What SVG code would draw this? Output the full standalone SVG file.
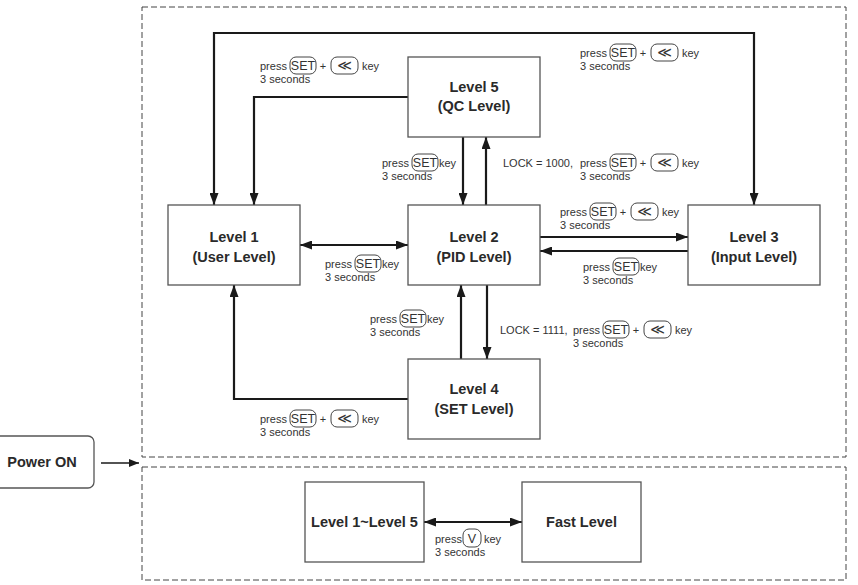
<svg xmlns="http://www.w3.org/2000/svg" width="858" height="585" viewBox="0 0 858 585">
<defs>
<style>
.frame{fill:none;stroke:#444;stroke-width:1;stroke-dasharray:6 3}
.box{fill:#fff;stroke:#555;stroke-width:1.3}
.nt{font-family:"Liberation Sans",Arial,sans-serif;font-weight:bold;font-size:14.5px;fill:#2a2a2a;text-anchor:middle}
.conn{fill:none;stroke:#1a1a1a;stroke-width:2.2}
.thin{fill:none;stroke:#1a1a1a;stroke-width:1.3}
.lt{font-family:"Liberation Sans",Arial,sans-serif;font-size:11px;fill:#333}
.kt{font-family:"Liberation Sans",Arial,sans-serif;font-size:12.5px;fill:#333;text-anchor:middle}
.ks{font-family:"DejaVu Sans",sans-serif;font-size:14px;fill:#333;text-anchor:middle}
.key{fill:#fff;stroke:#444;stroke-width:1}
</style>
<marker id="ah" viewBox="0 0 12 9" refX="12" refY="4.5" markerWidth="12" markerHeight="9" markerUnits="userSpaceOnUse" orient="auto-start-reverse">
<path d="M0,0 L12,4.5 L0,9 Z" fill="#1a1a1a"/>
</marker>
<marker id="ahs" viewBox="0 0 10 8" refX="10" refY="4" markerWidth="10" markerHeight="8" markerUnits="userSpaceOnUse" orient="auto">
<path d="M0,0 L10,4 L0,8 Z" fill="#1a1a1a"/>
</marker>
</defs>
<rect width="858" height="585" fill="#fff"/>
<g id="frames">
<rect class="frame" x="142" y="7" width="704" height="450"/>
<rect class="frame" x="142" y="467" width="704" height="113"/>
</g>
<g id="connectors">
<path class="conn" d="M214,205 V33 H754 V205" marker-start="url(#ah)" marker-end="url(#ah)"/>
<path class="conn" d="M408,97 H254 V205" marker-end="url(#ah)"/>
<path class="conn" d="M463,137 V205" marker-end="url(#ah)"/>
<path class="conn" d="M486,205 V137" marker-end="url(#ah)"/>
<path class="conn" d="M300,245 H408" marker-start="url(#ah)" marker-end="url(#ah)"/>
<path class="conn" d="M540,237 H688" marker-end="url(#ah)"/>
<path class="conn" d="M688,251 H540" marker-end="url(#ah)"/>
<path class="conn" d="M461,359 V285" marker-end="url(#ah)"/>
<path class="conn" d="M487,285 V359" marker-end="url(#ah)"/>
<path class="conn" d="M408,399 H234 V285" marker-end="url(#ah)"/>
<path class="conn" d="M424,522 H522" marker-start="url(#ah)" marker-end="url(#ah)"/>
<path class="thin" d="M101,463 H139" marker-end="url(#ahs)"/>
</g>
<g id="power-on">
<rect class="box" x="-6" y="436" width="100" height="52" rx="6"/>
<text class="nt" x="42" y="467">Power ON</text>
</g>
<g id="level5">
<rect class="box" x="408" y="57" width="132" height="80"/>
<text class="nt" x="474" y="92">Level 5</text>
<text class="nt" x="474" y="111">(QC Level)</text>
</g>
<g id="level1">
<rect class="box" x="168" y="205" width="132" height="80"/>
<text class="nt" x="234" y="242">Level 1</text>
<text class="nt" x="234" y="262">(User Level)</text>
</g>
<g id="level2">
<rect class="box" x="408" y="205" width="132" height="80"/>
<text class="nt" x="474" y="242">Level 2</text>
<text class="nt" x="474" y="262">(PID Level)</text>
</g>
<g id="level3">
<rect class="box" x="688" y="205" width="132" height="80"/>
<text class="nt" x="754" y="242">Level 3</text>
<text class="nt" x="754" y="262">(Input Level)</text>
</g>
<g id="level4">
<rect class="box" x="408" y="359" width="132" height="80"/>
<text class="nt" x="474" y="394">Level 4</text>
<text class="nt" x="474" y="414">(SET Level)</text>
</g>
<g id="level1-5">
<rect class="box" x="305" y="482" width="119" height="80"/>
<text class="nt" x="364.5" y="527">Level 1~Level 5</text>
</g>
<g id="fast-level">
<rect class="box" x="522" y="482" width="119" height="80"/>
<text class="nt" x="581.5" y="527">Fast Level</text>
</g>
<g id="labels">
<g transform="translate(260,70)">
<text class="lt" x="0" y="0">press</text>
<rect class="key" x="30" y="-13" width="26" height="17" rx="6"/>
<text class="kt" x="43" y="0">SET</text>
<text class="lt" x="63" y="0" text-anchor="middle">+</text>
<rect class="key" x="71" y="-13" width="27" height="17" rx="6"/>
<text class="ks" x="84.5" y="0">≪</text>
<text class="lt" x="102" y="0">key</text>
<text class="lt" x="0" y="13">3 seconds</text>
</g>
<g transform="translate(580,57)">
<text class="lt" x="0" y="0">press</text>
<rect class="key" x="30" y="-13" width="26" height="17" rx="6"/>
<text class="kt" x="43" y="0">SET</text>
<text class="lt" x="63" y="0" text-anchor="middle">+</text>
<rect class="key" x="71" y="-13" width="27" height="17" rx="6"/>
<text class="ks" x="84.5" y="0">≪</text>
<text class="lt" x="102" y="0">key</text>
<text class="lt" x="0" y="13">3 seconds</text>
</g>
<g transform="translate(382,167)">
<text class="lt" x="0" y="0">press</text>
<rect class="key" x="30" y="-13" width="26" height="17" rx="6"/>
<text class="kt" x="43" y="0">SET</text>
<text class="lt" x="57" y="0">key</text>
<text class="lt" x="0" y="13">3 seconds</text>
</g>
<g transform="translate(580,167)">
<text class="lt" x="-77" y="0">LOCK = 1000,</text>
<text class="lt" x="0" y="0">press</text>
<rect class="key" x="30" y="-13" width="26" height="17" rx="6"/>
<text class="kt" x="43" y="0">SET</text>
<text class="lt" x="63" y="0" text-anchor="middle">+</text>
<rect class="key" x="71" y="-13" width="27" height="17" rx="6"/>
<text class="ks" x="84.5" y="0">≪</text>
<text class="lt" x="102" y="0">key</text>
<text class="lt" x="0" y="13">3 seconds</text>
</g>
<g transform="translate(325,268)">
<text class="lt" x="0" y="0">press</text>
<rect class="key" x="30" y="-13" width="26" height="17" rx="6"/>
<text class="kt" x="43" y="0">SET</text>
<text class="lt" x="57" y="0">key</text>
<text class="lt" x="0" y="13">3 seconds</text>
</g>
<g transform="translate(560,216)">
<text class="lt" x="0" y="0">press</text>
<rect class="key" x="30" y="-13" width="26" height="17" rx="6"/>
<text class="kt" x="43" y="0">SET</text>
<text class="lt" x="63" y="0" text-anchor="middle">+</text>
<rect class="key" x="71" y="-13" width="27" height="17" rx="6"/>
<text class="ks" x="84.5" y="0">≪</text>
<text class="lt" x="102" y="0">key</text>
<text class="lt" x="0" y="13">3 seconds</text>
</g>
<g transform="translate(583,271)">
<text class="lt" x="0" y="0">press</text>
<rect class="key" x="30" y="-13" width="26" height="17" rx="6"/>
<text class="kt" x="43" y="0">SET</text>
<text class="lt" x="57" y="0">key</text>
<text class="lt" x="0" y="13">3 seconds</text>
</g>
<g transform="translate(370,323)">
<text class="lt" x="0" y="0">press</text>
<rect class="key" x="30" y="-13" width="26" height="17" rx="6"/>
<text class="kt" x="43" y="0">SET</text>
<text class="lt" x="57" y="0">key</text>
<text class="lt" x="0" y="13">3 seconds</text>
</g>
<g transform="translate(573,334)">
<text class="lt" x="-73" y="0">LOCK = 1111,</text>
<text class="lt" x="0" y="0">press</text>
<rect class="key" x="30" y="-13" width="26" height="17" rx="6"/>
<text class="kt" x="43" y="0">SET</text>
<text class="lt" x="63" y="0" text-anchor="middle">+</text>
<rect class="key" x="71" y="-13" width="27" height="17" rx="6"/>
<text class="ks" x="84.5" y="0">≪</text>
<text class="lt" x="102" y="0">key</text>
<text class="lt" x="0" y="13">3 seconds</text>
</g>
<g transform="translate(260,423)">
<text class="lt" x="0" y="0">press</text>
<rect class="key" x="30" y="-13" width="26" height="17" rx="6"/>
<text class="kt" x="43" y="0">SET</text>
<text class="lt" x="63" y="0" text-anchor="middle">+</text>
<rect class="key" x="71" y="-13" width="27" height="17" rx="6"/>
<text class="ks" x="84.5" y="0">≪</text>
<text class="lt" x="102" y="0">key</text>
<text class="lt" x="0" y="13">3 seconds</text>
</g>
<g transform="translate(435,543)">
<text class="lt" x="0" y="0">press</text>
<rect class="key" x="28" y="-14" width="18" height="18" rx="6"/>
<text class="kt" x="37" y="0">V</text>
<text class="lt" x="49" y="0">key</text>
<text class="lt" x="0" y="13">3 seconds</text>
</g>
</g>
</svg>
